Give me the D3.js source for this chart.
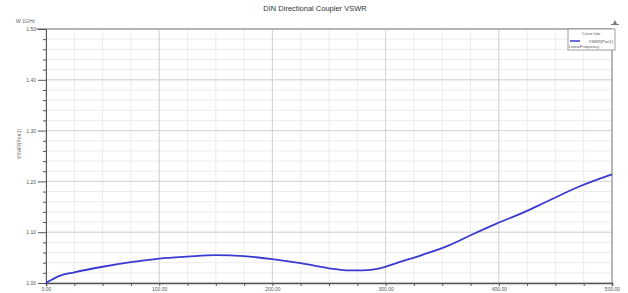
<!DOCTYPE html>
<html>
<head>
<meta charset="utf-8">
<script src="https://cdn.jsdelivr.net/npm/d3@7"></script>
<style>
  body { margin: 0; background: #fff; }
  text { font-family: "Liberation Sans", Arial, sans-serif; }
</style>
</head>
<body>
<svg id="vis"></svg>
<script>
// chart data
const FREQ = [0, 12, 25, 50, 75, 100, 125, 150, 175, 200, 225, 250, 265, 280, 295, 312, 332, 356, 376, 398, 420, 444, 471, 500]
const VSWR = [1.000, 1.014, 1.021, 1.032, 1.041, 1.048, 1.052, 1.055, 1.053, 1.047, 1.039, 1.029, 1.025, 1.025, 1.029, 1.041, 1.055, 1.074, 1.095, 1.117, 1.137, 1.162, 1.190, 1.214]
const X_TICKS = [0, 100, 200, 300, 400, 500]
const Y_TICKS = [1.0, 1.1, 1.2, 1.3, 1.4, 1.5]
const TITLE = 'DIN Directional Coupler VSWR'
const Y_LABEL = 'VSWR(Port1)'
const LEGEND_HEAD = 'Curve Info'
const LEGEND_ITEM = 'VSWR(Port1)'
const LEGEND_SUB = 'LinearFrequency'

// layout
const W = 628, H = 293
const LEFT = 46, RIGHT = 612, TOP = 29, BOTTOM = 283

var svg = d3.select('#vis')
    .attr('width', W)
    .attr('height', H)

var x = d3.scaleLinear().domain([0, 500]).range([LEFT, RIGHT])
var y = d3.scaleLinear().domain([1.0, 1.5]).range([BOTTOM, TOP])

const isMajorY = d => Y_TICKS.some(t => Math.abs(t - d) < 1e-6)
const minorX = d3.range(0, 501, 25)
const minorY = d3.range(0, 26).map(i => 1 + i * 0.02)

// minor grid
svg.append('g')
    .selectAll('line')
    .data(minorX)
    .join('line')
        .attr('x1', d => x(d)).attr('x2', d => x(d))
        .attr('y1', TOP).attr('y2', BOTTOM)
        .attr('stroke', '#ececec')
svg.append('g')
    .selectAll('line')
    .data(minorY)
    .join('line')
        .attr('x1', LEFT).attr('x2', RIGHT)
        .attr('y1', d => y(d)).attr('y2', d => y(d))
        .attr('stroke', '#ececec')

// major grid
svg.append('g')
    .selectAll('line')
    .data(X_TICKS)
    .join('line')
        .attr('x1', d => x(d)).attr('x2', d => x(d))
        .attr('y1', TOP).attr('y2', BOTTOM)
        .attr('stroke', '#d4d4d4')
svg.append('g')
    .selectAll('line')
    .data(Y_TICKS)
    .join('line')
        .attr('x1', LEFT).attr('x2', RIGHT)
        .attr('y1', d => y(d)).attr('y2', d => y(d))
        .attr('stroke', '#d4d4d4')

// frame: top thick grey, right thin
svg.append('line')
    .attr('x1', LEFT - 10).attr('x2', RIGHT)
    .attr('y1', TOP).attr('y2', TOP)
    .attr('stroke', '#b4b4b4').attr('stroke-width', 2)
svg.append('line')
    .attr('x1', RIGHT).attr('x2', RIGHT)
    .attr('y1', TOP).attr('y2', BOTTOM)
    .attr('stroke', '#888')

// x axis
var xAxis = svg.append('g')
    .attr('transform', `translate(0,${BOTTOM})`)
    .call(d3.axisBottom(x).tickValues(minorX).tickSize(3).tickFormat(d => X_TICKS.includes(d) ? d3.format('.2f')(d) : ''))
xAxis.select('.domain').attr('stroke', '#555').attr('stroke-width', 1.5)
xAxis.selectAll('.tick line').attr('stroke', '#555')
xAxis.selectAll('.tick text').attr('font-size', 5).attr('fill', '#555').attr('dy', '0.4em')

// y axis
var yAxis = svg.append('g')
    .attr('transform', `translate(${LEFT},0)`)
    .call(d3.axisLeft(y).tickValues(minorY).tickSize(3)
        .tickFormat(d => isMajorY(d) ? d3.format('.2f')(d) : ''))
yAxis.select('.domain').attr('stroke', '#555')
yAxis.selectAll('.tick line').attr('stroke', '#555')
yAxis.selectAll('.tick line').filter(isMajorY).attr('x2', -8)
yAxis.selectAll('.tick text').attr('font-size', 5).attr('fill', '#555').attr('x', -10)

// y label
svg.append('text')
    .attr('transform', `translate(21,${(TOP + BOTTOM) / 2 - 12}) rotate(-90)`)
    .attr('text-anchor', 'middle')
    .attr('font-size', 5)
    .attr('fill', '#666')
    .text(Y_LABEL)

// corner note
svg.append('text')
    .attr('x', 35).attr('y', 23)
    .attr('text-anchor', 'end')
    .attr('font-size', 5)
    .attr('fill', '#666')
    .text('W 1GHz')

// title
svg.append('text')
    .attr('x', 315).attr('y', 11)
    .attr('text-anchor', 'middle')
    .attr('font-size', 7.5)
    .attr('fill', '#333')
    .text(TITLE)

// curve
var line = d3.line()
    .x((d, i) => x(FREQ[i]))
    .y(d => y(d))
    .curve(d3.curveMonotoneX)
svg.append('path')
    .datum(VSWR)
    .attr('d', line)
    .attr('fill', 'none')
    .attr('stroke', '#3a3ad0')
    .attr('stroke-width', 1.8)

// legend
var lg = svg.append('g')
lg.append('rect')
    .attr('x', 568).attr('y', 29)
    .attr('width', 47).attr('height', 21)
    .attr('fill', '#fff')
    .attr('stroke', '#888').attr('stroke-width', 0.8)
lg.append('text')
    .attr('x', 591).attr('y', 35)
    .attr('text-anchor', 'middle')
    .attr('font-size', 4)
    .attr('fill', '#555')
    .text(LEGEND_HEAD)
lg.append('line')
    .attr('x1', 570).attr('x2', 580)
    .attr('y1', 41).attr('y2', 41)
    .attr('stroke', '#3a3ad0').attr('stroke-width', 1.5)
lg.append('text')
    .attr('x', 613).attr('y', 42.5)
    .attr('text-anchor', 'end')
    .attr('font-size', 4)
    .attr('fill', '#555')
    .text(LEGEND_ITEM)
lg.append('text')
    .attr('x', 569).attr('y', 48)
    .attr('font-size', 4)
    .attr('fill', '#555')
    .text(LEGEND_SUB)

// small logo in corner
svg.append('path')
    .attr('d', 'M613,24 L615,20 L617,24 Z')
    .attr('fill', '#777')
svg.append('line')
    .attr('x1', 611).attr('x2', 619)
    .attr('y1', 24.5).attr('y2', 24.5)
    .attr('stroke', '#777')
</script>
</body>
</html>
